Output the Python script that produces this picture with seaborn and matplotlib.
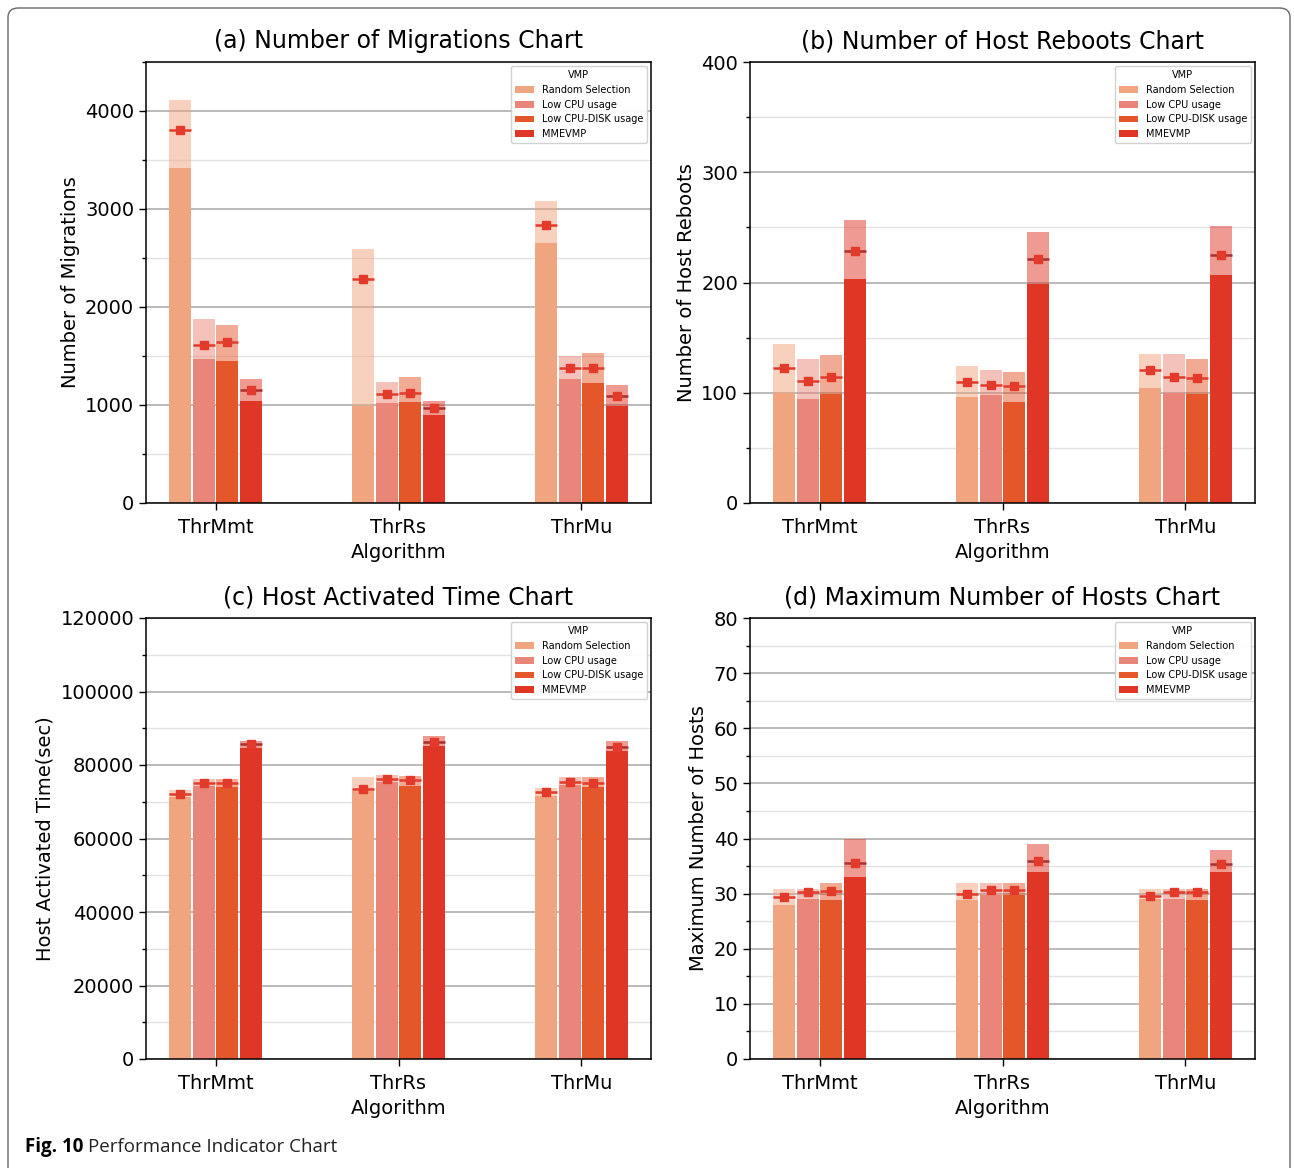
import numpy as np
import pandas as pd
import seaborn as sns
import matplotlib.pyplot as plt
from matplotlib.patches import FancyBboxPatch, Patch
from matplotlib.ticker import MultipleLocator

# ----------------------------------------------------------------
# DATA
# rows: algorithms, columns: VMP policies
# ----------------------------------------------------------------
algorithms = ["ThrMmt", "ThrRs", "ThrMu"]
vmp = ["Random Selection", "Low CPU usage", "Low CPU-DISK usage", "MMEVMP"]

mig_min = [[3420, 1470, 1450, 1045], [990, 1025, 1035, 900], [2655, 1262, 1228, 985]]
mig_mean = [[3805, 1615, 1640, 1153], [2283, 1116, 1126, 966], [2837, 1378, 1378, 1095]]
mig_max = [[4110, 1880, 1816, 1265], [2589, 1232, 1282, 1044], [3078, 1500, 1527, 1204]]

reb_min = [[100, 94, 99, 203], [96, 98, 92, 199], [104, 100, 99, 207]]
reb_mean = [[122, 111, 114, 229], [110, 107, 106, 221], [121, 114, 113, 225]]
reb_max = [[144, 131, 134, 257], [124, 121, 119, 246], [135, 135, 131, 251]]

time_min = [[71340, 74420, 74060, 84760], [72870, 75510, 74420, 85120], [71620, 74600, 74060, 83760]]
time_mean = [[72060, 75150, 75150, 85580], [73600, 76140, 75960, 86200], [72520, 75420, 75150, 84950]]
time_max = [[73250, 76240, 76240, 86580], [76790, 77330, 77140, 87760], [73700, 76600, 76600, 86580]]

host_min = [[28.0, 29.0, 28.9, 33.0], [28.9, 29.8, 29.8, 34.0], [29.0, 29.0, 28.9, 34.0]]
host_mean = [[29.4, 30.3, 30.4, 35.6], [30.0, 30.7, 30.7, 35.9], [29.6, 30.3, 30.3, 35.3]]
host_max = [[30.8, 30.9, 32.0, 39.9], [32.0, 32.0, 32.0, 39.0], [30.8, 30.9, 30.9, 38.0]]

# ----------------------------------------------------------------
# STYLE
# ----------------------------------------------------------------
sns.set_style("ticks")
plt.rcParams["font.family"] = "DejaVu Sans"
plt.rcParams["axes.axisbelow"] = True
plt.rcParams["text.color"] = "black"
plt.rcParams["axes.labelcolor"] = "black"
plt.rcParams["xtick.color"] = "black"
plt.rcParams["ytick.color"] = "black"

colors = ["#f0a47f", "#ea8579", "#e4572b", "#e03626"]
line_colors = ["#e23b2b", "#e23b2b", "#e23b2b", "#a83030"]

W, H = 1294, 1168
fig = plt.figure(figsize=(W / 100, H / 100), dpi=100)


def frame(lo, mid, hi):
    rows = []
    for i, alg in enumerate(algorithms):
        for j, v in enumerate(vmp):
            rows.append({"Algorithm": alg, "VMP": v,
                         "low": lo[i][j], "mean": mid[i][j], "high": hi[i][j]})
    return pd.DataFrame(rows)


def panel(box, title, ylabel, lo, mid, hi, ymax, major, minor):
    l, t, r, b = box
    ax = fig.add_axes([l / W, 1 - b / H, (r - l) / W, (b - t) / H])
    df = frame(lo, mid, hi)

    # upper (max) part, lighter
    sns.barplot(data=df, x="Algorithm", y="high", hue="VMP", hue_order=vmp,
                palette=colors, saturation=1, width=0.52, gap=0.07, alpha=0.5,
                errorbar=None, linewidth=0, legend=False, ax=ax)
    # lower (min) part, solid
    sns.barplot(data=df, x="Algorithm", y="low", hue="VMP", hue_order=vmp,
                palette=colors, saturation=1, width=0.52, gap=0.07,
                errorbar=None, linewidth=0, legend=False, ax=ax)

    # mean marker with a horizontal line across each bar
    for k, cont in enumerate(ax.containers[-4:]):
        for bar in cont:
            x0 = bar.get_x()
            w = bar.get_width()
            j = int(round(x0 + w / 2))
            m = mid[j][k]
            ax.hlines(m, x0, x0 + w, color=line_colors[k], lw=1.8, zorder=4)
            ax.plot(x0 + w / 2, m, marker="s", ms=6, color="#e23b2b", zorder=5)

    ax.set_xlim(-0.38, 2.38)
    ax.set_ylim(0, ymax)
    ax.yaxis.set_major_locator(MultipleLocator(major))
    ax.yaxis.set_minor_locator(MultipleLocator(minor))
    ax.grid(axis="y", which="major", color="#b4b4b4", lw=1.3)
    ax.grid(axis="y", which="minor", color="#e2e2e2", lw=1.0)
    ax.tick_params(axis="both", which="major", labelsize=14, length=5, width=1, color="black")
    ax.tick_params(axis="x", which="major", pad=6)
    ax.tick_params(axis="y", which="minor", length=3, width=1, color="black")
    for s in ax.spines.values():
        s.set_color("black")
        s.set_linewidth(1.1)

    ax.set_title(title, fontsize=17, pad=10)
    ax.set_xlabel("Algorithm", fontsize=14)
    ax.set_ylabel(ylabel, fontsize=14)
    handles = [Patch(facecolor=c, edgecolor="none") for c in colors]
    ax.legend(handles, vmp, title="VMP", fontsize=7, title_fontsize=7, loc="upper right",
              borderaxespad=0.4, framealpha=0.9)
    return ax


panel((146, 62, 651, 503), "(a) Number of Migrations Chart", "Number of Migrations",
      mig_min, mig_mean, mig_max, 4500, 1000, 500)
panel((750, 62, 1255, 503), "(b) Number of Host Reboots Chart", "Number of Host Reboots",
      reb_min, reb_mean, reb_max, 400, 100, 50)
panel((146, 618, 651, 1059), "(c) Host Activated Time Chart", "Host Activated Time(sec)",
      time_min, time_mean, time_max, 120000, 20000, 10000)
panel((750, 618, 1255, 1059), "(d) Maximum Number of Hosts Chart", "Maximum Number of Hosts",
      host_min, host_mean, host_max, 80, 10, 5)

# rounded figure frame
border = FancyBboxPatch((8 / W, -0.02), (1290 - 8) / W, 1 - 8 / H + 0.02,
                        boxstyle="round,pad=0,rounding_size=0.008",
                        transform=fig.transFigure, fill=False,
                        edgecolor="#666666", lw=1.0)
fig.patches.append(border)

# caption
cap1 = fig.text(25 / W, 1 - 1147 / H, "Fig. 10", fontsize=13.5, weight="bold",
                family="Open Sans", va="center", ha="left")
renderer = fig.canvas.get_renderer()
bb = cap1.get_window_extent(renderer=renderer)
fig.text((bb.x1 + 5) / W, 1 - 1147 / H, "Performance Indicator Chart", fontsize=13.5,
         family="Open Sans", va="center", ha="left", color="#222222")

fig.savefig("out.png", dpi=100)
